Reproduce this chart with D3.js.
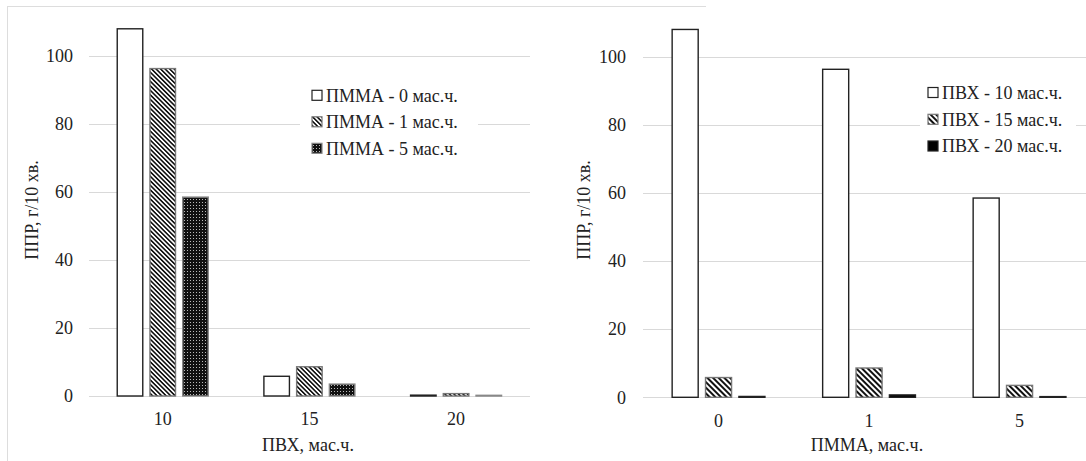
<!DOCTYPE html>
<html>
<head>
<meta charset="utf-8">
<script src="https://cdn.jsdelivr.net/npm/d3@7"></script>
<style>
  html, body { margin: 0; padding: 0; background: #fff; }
  svg { display: block; }
</style>
</head>
<body>
<svg id="chart" width="1086" height="461"></svg>
<script>
// ПВХ content levels (мас.ч.) and ПММА content levels (мас.ч.)
const pvcLevels = ["10", "15", "20"];
const pmmaLevels = ["0", "1", "5"];

// ППР, г/10 хв — one array per ПВХ level, values for ПММА 0 / 1 / 5
const pvc10 = [108.0, 96.3, 58.5];
const pvc15 = [5.8, 8.6, 3.5];
const pvc20 = [0.25, 0.7, 0.2];
const rows = [pvc10, pvc15, pvc20];

const yTicks = [0, 20, 40, 60, 80, 100];

const pmmaSeriesLabels = ["ПММА - 0 мас.ч.", "ПММА - 1 мас.ч.", "ПММА - 5 мас.ч."];
const pvcSeriesLabels = ["ПВХ - 10 мас.ч.", "ПВХ - 15 мас.ч.", "ПВХ - 20 мас.ч."];

const FONT = '"Liberation Serif", "Times New Roman", Times, "Nimbus Roman", FreeSerif, "Noto Serif", "Noto Serif CJK SC", "DejaVu Serif", serif';
const FS = 18;

const svg = d3.select("#chart");
const defs = svg.append("defs");

// fill patterns
function hatch(id, size, lw) {
  const p = defs.append("pattern")
    .attr("id", id).attr("patternUnits", "userSpaceOnUse")
    .attr("width", size).attr("height", size)
    .attr("patternTransform", "rotate(-45)");
  p.append("rect").attr("width", size).attr("height", size).attr("fill", "#fff");
  p.append("rect").attr("width", lw).attr("height", size).attr("fill", "#111");
}
hatch("hatchFine", 3.2, 1.6);
hatch("hatchWide", 4.0, 2.0);

const dots = defs.append("pattern")
  .attr("id", "dots").attr("patternUnits", "userSpaceOnUse")
  .attr("width", 3).attr("height", 3);
dots.append("rect").attr("width", 3).attr("height", 3).attr("fill", "#111");
dots.append("rect").attr("x", 1).attr("y", 1).attr("width", 1).attr("height", 1).attr("fill", "#bbb");

// outer frame
svg.append("line").attr("x1", 7.5).attr("x2", 7.5).attr("y1", 6).attr("y2", 461)
  .attr("stroke", "#ddd").attr("stroke-width", 1);
svg.append("line").attr("x1", 7).attr("x2", 706).attr("y1", 6.5).attr("y2", 6.5)
  .attr("stroke", "#ddd").attr("stroke-width", 1);

function drawChart(cfg) {
  const g = svg.append("g").attr("font-family", FONT);
  const y = d3.scaleLinear().domain([0, 100]).range([cfg.y0, cfg.y100]);
  const x = d3.scaleBand().domain(cfg.categories).range(cfg.xRange).padding(0);
  const inner = d3.scaleBand().domain(d3.range(cfg.series.length))
    .range([0, cfg.innerWidth]).paddingInner(cfg.innerPad).paddingOuter(0);

  // gridlines
  g.selectAll("line.grid").data(yTicks).join("line")
    .attr("class", "grid")
    .attr("x1", cfg.gridX[0]).attr("x2", cfg.gridX[1])
    .attr("y1", d => Math.round(y(d)) + 0.5).attr("y2", d => Math.round(y(d)) + 0.5)
    .attr("stroke", "#d9d9d9").attr("stroke-width", 1.2);

  // y axis labels
  const yAxis = d3.axisLeft(y).tickValues(yTicks).tickSize(0).tickPadding(0);
  const ya = g.append("g").attr("transform", `translate(${cfg.yLabelX},0)`).call(yAxis);
  ya.attr("font-family", FONT).attr("font-size", FS);
  ya.select(".domain").remove();
  ya.selectAll("text").attr("fill", "#222");

  // x axis labels
  const xAxis = d3.axisBottom(x).tickSize(0).tickPadding(0);
  const xa = g.append("g").attr("transform", `translate(0,${cfg.xLabelY})`).call(xAxis);
  xa.attr("font-family", FONT).attr("font-size", FS);
  xa.select(".domain").remove();
  xa.selectAll("text").attr("fill", "#222").attr("dy", "0");

  // bars
  cfg.categories.forEach((c, ci) => {
    const x0 = x(c) + x.bandwidth() / 2 - cfg.innerWidth / 2;
    cfg.series.forEach((s, si) => {
      const v = cfg.value(ci, si);
      g.append("rect")
        .attr("x", x0 + inner(si))
        .attr("width", inner.bandwidth())
        .attr("y", y(v))
        .attr("height", y(0) - y(v))
        .attr("fill", s.fill)
        .attr("stroke", s.stroke)
        .attr("stroke-width", 1.4);
    });
  });

  // axis titles
  g.append("text")
    .attr("transform", `translate(${cfg.yTitle[0]},${cfg.yTitle[1]}) rotate(-90)`)
    .attr("text-anchor", "middle").attr("font-size", FS).attr("fill", "#222")
    .text("ППР, г/10 хв.");
  g.append("text")
    .attr("x", cfg.xTitle[0]).attr("y", cfg.xTitle[1])
    .attr("text-anchor", "middle").attr("font-size", FS).attr("fill", "#222")
    .text(cfg.xTitleText);

  // legend
  const lg = g.append("g");
  lg.append("rect")
    .attr("x", cfg.legendBox[0]).attr("y", cfg.legendBox[1])
    .attr("width", cfg.legendBox[2]).attr("height", cfg.legendBox[3])
    .attr("fill", "#fff");
  cfg.series.forEach((s, si) => {
    const cy = cfg.legendY[si];
    lg.append("rect")
      .attr("x", cfg.legendX).attr("y", cy - 5)
      .attr("width", 10).attr("height", 10)
      .attr("fill", s.fill).attr("stroke", s.stroke).attr("stroke-width", 1.2);
    lg.append("text")
      .attr("x", cfg.legendX + 14).attr("y", cy).attr("dy", "0.35em")
      .attr("font-size", FS).attr("fill", "#222")
      .text(s.label);
  });
}

// left: ППР vs ПВХ content, series by ПММА content
drawChart({
  categories: pvcLevels,
  series: [
    { label: pmmaSeriesLabels[0], fill: "#fff", stroke: "#222" },
    { label: pmmaSeriesLabels[1], fill: "url(#hatchFine)", stroke: "#777" },
    { label: pmmaSeriesLabels[2], fill: "url(#dots)", stroke: "#888" }
  ],
  value: (ci, si) => rows[ci][si],
  y0: 396, y100: 56,
  xRange: [89.4, 529.4],
  gridX: [89, 530],
  innerWidth: 91, innerPad: 0.22,
  yLabelX: 73, xLabelY: 424.5,
  yTitle: [38, 210], xTitle: [308, 451], xTitleText: "ПВХ, мас.ч.",
  legendBox: [300, 80, 178, 82],
  legendX: 312, legendY: [95.3, 121.8, 148.3]
});

// right: ППР vs ПММА content, series by ПВХ content
drawChart({
  categories: pmmaLevels,
  series: [
    { label: pvcSeriesLabels[0], fill: "#fff", stroke: "#222" },
    { label: pvcSeriesLabels[1], fill: "url(#hatchWide)", stroke: "#777" },
    { label: pvcSeriesLabels[2], fill: "#000", stroke: "#222" }
  ],
  value: (ci, si) => rows[si][ci],
  y0: 397.3, y100: 56.7,
  xRange: [643.3, 1094.8],
  gridX: [643, 1086],
  innerWidth: 92.8, innerPad: 0.22,
  yLabelX: 626, xLabelY: 426.5,
  yTitle: [590, 210], xTitle: [867, 451], xTitleText: "ПММА, мас.ч.",
  legendBox: [920, 78, 156, 82],
  legendX: 928, legendY: [92.5, 119.3, 146]
});
</script>
</body>
</html>
